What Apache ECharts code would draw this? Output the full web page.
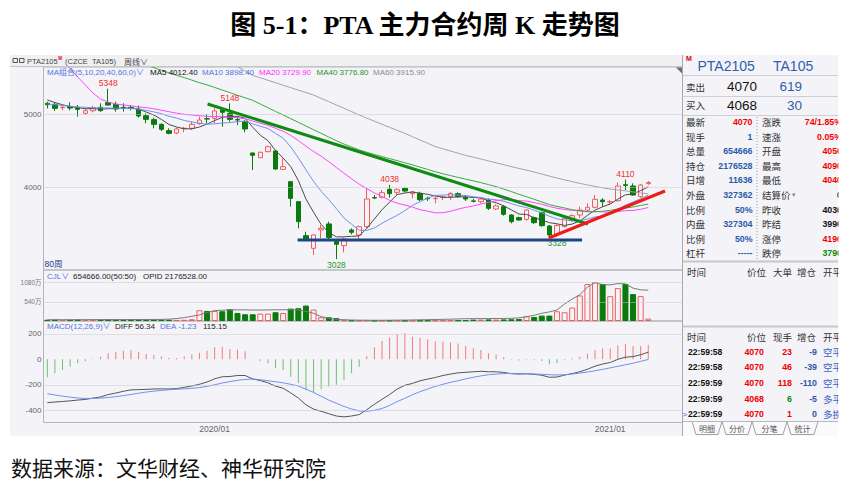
<!DOCTYPE html>
<html><head><meta charset="utf-8"><title>PTA主力合约周K走势图</title>
<script src="https://cdn.jsdelivr.net/npm/echarts@6/dist/echarts.min.js"></script>
<style>html,body{margin:0;padding:0;background:#fff;}#chart{width:850px;height:486px;}</style>
</head><body><div id="chart"></div>
<script>
// ---------------- DATA ----------------
const titleText = '图 5-1：PTA 主力合约周 K 走势图';
const sourceText = '数据来源：文华财经、神华研究院';
const dates = ['2019/07/29','2019/08/05','2019/08/12','2019/08/19','2019/08/26','2019/09/02','2019/09/09','2019/09/16','2019/09/23','2019/09/30','2019/10/07','2019/10/14','2019/10/21','2019/10/28','2019/11/04','2019/11/11','2019/11/18','2019/11/25','2019/12/02','2019/12/09','2019/12/16','2019/12/23','2019/12/30',
'2020/01/06','2020/01/13','2020/01/20','2020/01/27','2020/02/03','2020/02/10','2020/02/17','2020/02/24','2020/03/02','2020/03/09','2020/03/16','2020/03/23','2020/03/30','2020/04/06','2020/04/13','2020/04/20','2020/04/27','2020/05/04','2020/05/11','2020/05/18','2020/05/25','2020/06/01','2020/06/08','2020/06/15','2020/06/22','2020/06/29','2020/07/06','2020/07/13','2020/07/20','2020/07/27','2020/08/03','2020/08/10','2020/08/17','2020/08/24','2020/08/31','2020/09/07','2020/09/14','2020/09/21','2020/09/28','2020/10/05','2020/10/12','2020/10/19','2020/10/26','2020/11/02','2020/11/09','2020/11/16','2020/11/23','2020/11/30','2020/12/07','2020/12/14','2020/12/21','2020/12/28',
'2021/01/04','2021/01/11','2021/01/18','2021/01/25','2021/02/01'];
const tickDates = ['2019/12/30','2020/12/28'];
const tickLabels = ['2020/01','2021/01'];

const opens = [5150,5135,5090,5104,5086,5013,5049,5095,5158,5135, 5095,5095,5072,4981,4927,4863,4777,4745,4805,4809, 4872,4940,4945,5058,5013,4927,4899,4473,4409,4491, 4500,4250,4082,3810,3347,3174,3424,3506,3265,3211, 3424,3356,3469,3865,3869,3978,3937,3991,3919,3923, 3855,3851,3868,3878,3919,3869,3820,3810,3832,3710, 3742,3628,3592,3569,3592,3660,3478,3365,3469,3574, 3628,3696,3733,3832,3805,3823,4041,4023,3878,4056];
const closes = [5130,5081,5095,5085,5067,5049,5090,5049,5126,5072, 5090,5085,4977,4931,4863,4795,4740,4800,4810,4863, 4922,4935,5045,5027,4931,4922,4800,4441,4482,4559, 4255,4286,3855,3537,3297,3356,3447,3320,3229,3301, 3392,3469,3846,3860,3932,3919,3973,3955,3937,3837, 3850,3855,3873,3923,3878,3846,3815,3846,3719,3751, 3637,3537,3560,3696,3524,3483,3356,3483,3583,3619, 3696,3733,3842,3810,3810,4023,4032,3900,4036,4070];
const lows = [5080,5045,5054,5054,4968,4990,5027,5036,5117,5036, 5036,5054,4954,4877,4809,4772,4727,4727,4754,4786, 4854,4877,4877,4831,4899,4854,4754,4241,4400,4482, 4241,4241,3742,3447,3279,3083,3310,3301,3028,3120, 3365,3301,3447,3846,3855,3864,3900,3937,3855,3819, 3819,3787,3832,3832,3864,3819,3800,3787,3696,3696, 3619,3515,3551,3551,3506,3469,3340,3328,3460,3537, 3583,3674,3719,3742,3764,3810,3968,3891,3864,4040];
const highs = [5170,5158,5126,5163,5126,5081,5117,5149,5348,5172, 5149,5126,5117,5013,4954,4877,4809,4818,4831,4899, 4968,5000,5081,5081,5148,4968,4922,4477,4491,4573, 4514,4400,4091,3819,3401,3365,3492,3537,3288,3320, 3447,3483,3991,3900,3968,4038,3991,4000,3955,3946, 3878,3878,3892,3937,3937,3900,3850,3864,3855,3773, 3764,3637,3605,3705,3605,3674,3492,3501,3605,3637, 3742,3787,3900,3855,3832,4073,4110,4059,4050,4090];

const ma5 = [5195,5160,5130,5105,5092,5075,5077,5068,5076,5077, 5085,5084,5070,5031,4989,4930,4861,4826,4802,4802, 4827,4866,4915,4958,4972,4972,4945,4824,4715,4641, 4507,4405,4287,4098,3846,3666,3498,3391,3330,3331, 3338,3342,3447,3574,3700,3805,3906,3928,3943,3924, 3910,3887,3870,3868,3876,3875,3867,3862,3821,3795, 3754,3698,3641,3636,3591,3560,3524,3508,3486,3505, 3547,3623,3695,3740,3778,3844,3903,3915,3960,4012.4];
const ma10 = [5140,5130,5120,5110,5100,5095,5090,5088,5086,5084, 5080,5081,5069,5054,5033,5008,4973,4948,4916,4895, 4879,4864,4870,4880,4887,4900,4906,4870,4837,4806, 4740,4675,4556,4407,4243,4087,3952,3839,3714,3588, 3502,3420,3419,3452,3515,3572,3624,3688,3758,3812, 3858,3896,3899,3905,3900,3893,3877,3866,3844,3836, 3814,3783,3751,3729,3693,3657,3611,3575,3561,3548, 3554,3573,3602,3613,3642,3696,3763,3805,3850,3898.4];
const ma20 = [5950,5840,5730,5620,5508,5400,5290,5208,5167,5140, 5127,5115,5100,5090,5075,5055,5035,5015,5000,4990, 4980,4972,4970,4967,4960,4954,4939,4909,4877,4851, 4809,4769,4713,4643,4565,4493,4429,4355,4275,4197, 4121,4048,3988,3929,3879,3829,3788,3764,3736,3700, 3680,3658,3659,3679,3708,3732,3751,3777,3801,3824, 3836,3839,3825,3817,3797,3775,3744,3720,3703,3692, 3684,3678,3676,3671,3667,3676,3687,3690,3706,3729.9];
const ma40 = [6125,6090,6055,6020,5985,5950,5915,5880,5845,5810, 5775,5740,5705,5670,5635,5600,5565,5530,5500,5465, 5430,5400,5365,5330,5295,5260,5225,5190,5140,5090, 5040,4990,4940,4890,4840,4790,4740,4690,4640,4594, 4554,4514,4483,4452,4424,4396,4368,4340,4311,4280, 4249,4218,4190,4165,4140,4116,4093,4069,4042,4014, 3982,3947,3910,3877,3842,3806,3770,3746,3724,3700, 3686,3672,3672,3679,3692,3709,3723,3738,3758,3776.8];
const ma60 = [6660,6620,6580,6540,6500,6460,6420,6380,6340,6300, 6260,6220,6180,6140,6100,6060,6020,5980,5940,5900, 5860,5820,5780,5740,5700,5650,5590,5530,5497,5463, 5430,5396,5363,5329,5296,5262,5217,5172,5127,5082, 5036,4990,4948,4906,4864,4822,4780,4740,4695,4650, 4605,4560,4530,4500,4470,4440,4415,4390,4365,4339, 4314,4288,4262,4239,4213,4187,4158,4132,4107,4083, 4059,4037,4018,3999,3982,3969,3957,3942,3929,3915.9];

const volumes = [350000,400000,300000,350000,400000,300000,350000,400000,450000,400000, 300000,300000,450000,400000,450000,400000,350000,300000,350000,500000, 3040000,2840000,2840000,2750000,3320000,2270000,1900000,1900000,2080000,2080000, 2470000,2270000,3500000,3600000,4350000,3220000,1050000,1050000,800000,250000, 150000,120000,150000,100000,100000,120000,100000,100000,120000,120000, 150000,150000,180000,200000,200000,220000,400000,400000,450000,400000, 450000,500000,550000,1330000,1140000,1520000,1520000,2750000,2470000,3790000, 7200000,10420000,10990000,10420000,7010000,9280000,10420000,7580000,7010000,654666];
const openInterest = [90000,90000,92000,92000,95000,95000,97000,98000,100000,100000, 102000,104000,106000,108000,110000,115000,130000,170000,240000,330000, 426000,600000,730000,760000,780000,790000,785000,775000,770000,780000, 790000,795000,800000,780000,690000,547000,305000,200000,120000,90000, 70000,60000,55000,52000,52000,55000,60000,66000,75000,85000, 95000,105000,118000,130000,145000,160000,165000,170000,172000,175000, 180000,190000,220000,305000,400000,547000,640000,780000,1200000,1550000, 1850000,2400000,2700000,2570000,2550000,2640000,2620000,2320000,2200000,2176528];

const macdDiff = [-340,-335,-331,-326,-320,-315,-305,-295,-277,-265, -251,-240,-238,-236,-233,-232,-233,-230,-220,-210, -196,-178,-153,-137,-135,-127,-127,-154,-167,-184, -211,-227,-264,-304,-357,-391,-408,-427,-445,-452, -445,-434,-395,-353,-314,-276,-233,-204,-189,-169, -155,-143,-127,-116,-106,-102,-98,-94,-98,-98, -103,-113,-116,-114,-118,-125,-141,-139,-124,-112, -98,-78,-54,-37,-25,0,17,21,36,56.34];
const macdDea = [-270,-280,-289,-297,-304,-307,-307,-305,-300,-293, -285,-276,-266,-257,-250,-244,-239,-235,-232,-228, -222,-212,-200,-186,-175,-165,-158,-155,-160,-168, -176,-185,-196,-210,-235,-260,-290,-320,-345,-370, -390,-405,-408,-400,-386,-362,-332,-306,-278,-254, -233,-213,-196,-181,-168,-154,-141,-130,-121,-116, -112,-111,-111,-112,-115,-118,-121,-123,-121,-116, -108,-100,-90,-79,-67,-55,-43,-31,-16,-1.23];
const macdHist = [-141,-110,-84,-58,-31,-16,5,20,47,57, 68,73,57,42,34,24,13,10,24,37, 52,68,94,99,81,76,63,2,-13,-31, -70,-84,-136,-188,-243,-262,-235,-214,-200,-164, -110,-58,26,94,144,172,199,204,178,170, 157,141,139,131,125,105,86,73,47,37, 18,-4,-10,-3,-6,-13,-39,-31,-5,8, 21,44,73,84,84,110,120,104,104,115.15];

const priceTicks = [4000, 5000];
const volumeTicks = [5400000, 10800000];
const macdTicks = [-400, -200, 0, 200];
const highMarks = [8, 24, 45, 76];   // indices of labelled highs
const lowMarks = [38, 67];           // indices of labelled lows
// hand-drawn trend lines: [candle index, price]
const trendDown = [[21.07, 5140], [71.07, 3506]];
const trendSupport = [[32.9, 3288], [70.3, 3288]];
const trendUp = [[65.9, 3315], [81.2, 3955]];

// quote panel
const contractCode = 'PTA2105';
const contractShort = 'TA105';
const exchangeCode = 'CZCE';
const periodName = '周线';
const bookRows = [['卖出', '4070', '619'], ['买入', '4068', '30']];
const quoteLeftLabels = ['最新','现手','总量','持仓','日增','外盘','比例','内盘','比例','杠杆'];
const quoteLeftValues = ['4070','1','654666','2176528','11636','327362','50%','327304','50%','-----'];
const quoteRightLabels = ['涨跌','速涨','开盘','最高','最低','结算价','昨收','昨结','涨停','跌停'];
const quoteRightValues = ['74/1.85%','0.05%','4056','4090','4040','0','4036','3996','4196','3796'];
const tickHeaderA = ['时间','价位','大单','增仓','开平'];
const tickHeaderB = ['时间','价位','现手','增仓','开平'];
const tradeTimes = ['22:59:58','22:59:58','22:59:59','22:59:59','22:59:59'];
const tradePrices = [4070, 4070, 4070, 4068, 4070];
const tradeVolumes = [23, 46, 118, 6, 1];
const tradeOIChange = [-9, -39, -110, -5, 0];
const tradeTypes = ['空平','空平','空平','多平','多换'];
const panelTabs = ['明细','分价','分笔','统计'];

// ---------------- LAYOUT / STYLE ----------------
const FONT = '"Liberation Sans","Noto Sans CJK SC",sans-serif';
const CJK = '"Noto Sans CJK SC","Liberation Sans",sans-serif';
const BG = '#f4f4f8';
const RED = '#f25c5c', GREEN = '#0a7a0a';
const BLUE_T = '#2f5fae';
const padCats = ['pad1','pad2','pad3','pad4'];
const xCats = dates.concat(padCats);
const N = xCats.length;
const GL = 43.5, GW = 639;

const mctx = document.createElement('canvas').getContext('2d');
function fontStr(size, weight, fam) { return (weight ? weight + ' ' : '') + size + 'px ' + (fam || FONT); }
function textW(s, size, weight, fam) { mctx.font = fontStr(size, weight, fam); return mctx.measureText(String(s)).width; }

const G = [];
function T(x, y, text, o) {
  o = o || {};
  G.push({type: 'text', x: x, y: y, z: o.z || 50, silent: true,
    style: {text: String(text), x: 0, y: 0, font: fontStr(o.size || 8, o.weight, o.family), fill: o.color || '#333',
      textAlign: o.align || 'left', align: o.align || 'left',
      textVerticalAlign: 'middle', verticalAlign: 'middle'}});
}
function Ln(x1, y1, x2, y2, color, w, dash, z) {
  G.push({type: 'line', z: z || 40, silent: true, shape: {x1, y1, x2, y2},
    style: {stroke: color, lineWidth: w || 1, lineDash: dash || null}});
}
function Rc(x, y, w, h, fill, z, stroke) {
  G.push({type: 'rect', z: z === undefined ? -100 : z, silent: true, shape: {x, y, width: w, height: h},
    style: {fill: fill, stroke: stroke || null, lineWidth: 1}});
}
function Poly(points, color, z, fill) {
  G.push({type: fill ? 'polygon' : 'polyline', z: z || 40, silent: true, shape: {points},
    style: fill ? {fill: color} : {stroke: color, lineWidth: 1, fill: null}});
}

// screenshot background
Rc(10, 55, 828, 381, BG, -100);
Rc(10, 55, 672.5, 12, '#f0f0f3', -90);
Ln(10, 66.5, 682.5, 66.5, '#c4c4cc', 1);
Poly([[676, 67.5], [682, 67.5], [682, 73.5]], '#6a6a70', 45, true);
// header of chart
G.push({type: 'rect', z: 50, silent: true, shape: {x: 13, y: 58.5, width: 4.5, height: 4}, style: {fill: null, stroke: '#555', lineWidth: 1}});
G.push({type: 'rect', z: 50, silent: true, shape: {x: 19.5, y: 58.5, width: 4.5, height: 4}, style: {fill: null, stroke: '#555', lineWidth: 1}});
(function () {
  const hs = 7.5;
  let x = 27;
  T(x, 61, contractCode, {size: hs, color: '#444'});
  x += textW(contractCode, hs) + 0.5;
  T(x, 58.5, 'M', {size: 4.5, color: '#e00', weight: 'bold'});
  x += textW('M', 4.5, 'bold') + 3;
  const ex = '(' + exchangeCode + '  ' + contractShort + ')';
  T(x, 61, ex, {size: hs, color: '#444'});
  x += textW(ex, hs) + 8;
  T(Math.max(x, 117), 61, periodName + '∨', {size: 8, color: '#444', family: CJK});
})();

// legends
const last = a => a[a.length - 1];
const fx = v => Number(v).toFixed(2);
const maLegend = [
  ['MA组合(5,10,20,40,60,0)∨', '#5276dc', 47],
  ['MA5 ' + fx(last(ma5)), '#111', 150],
  ['MA10 ' + fx(last(ma10)), '#4d73e0', 202],
  ['MA20 ' + fx(last(ma20)), '#ff2bff', 259],
  ['MA40 ' + fx(last(ma40)), '#1e951e', 316.5],
  ['MA60 ' + fx(last(ma60)), '#8a8a8a', 373]
];
maLegend.forEach(m => T(m[2], 72.5, m[0], {size: 8, color: m[1]}));
T(44.5, 264, dates.length + '周', {size: 8.5, color: '#1c3a8c'});
T(47, 276, 'CJL∨', {size: 8, color: '#5276dc'});
T(73, 276, fx(last(volumes)) + '(50:50)', {size: 8, color: '#222'});
T(143, 276, 'OPID ' + fx(last(openInterest)), {size: 8, color: '#222'});
T(47, 326.5, 'MACD(12,26,9)∨', {size: 8, color: '#5276dc'});
T(115, 326.5, 'DIFF ' + fx(last(macdDiff)), {size: 8, color: '#222'});
T(160, 326.5, 'DEA ' + fx(last(macdDea)), {size: 8, color: '#5276dc'});
T(203, 326.5, fx(last(macdHist)), {size: 8, color: '#222'});

// right quote panel
Ln(682.5, 55, 682.5, 436, '#a8a8b2', 1);
T(686, 58.5, 'M', {size: 7, weight: 'bold', color: '#e00000', z: 60});
T(697.5, 65.5, contractCode, {size: 14, color: BLUE_T});
T(773, 65.5, contractShort, {size: 14, color: BLUE_T});
Ln(683, 75.5, 838, 75.5, '#cfcfd6');
bookRows.forEach((r, k) => {
  const y = 86.5 + k * 18.5;
  T(686, y, r[0], {size: 9.5, color: '#333', family: CJK});
  T(727, y, r[1], {size: 13.5, color: '#111'});
  T(802, y, r[2], {size: 13.5, color: BLUE_T, align: 'right'});
});
Ln(683, 96.5, 838, 96.5, '#cfcfd6');
Ln(683, 115.5, 838, 115.5, '#cfcfd6');
const toneColor = {red: '#f00000', blue: '#2c5aa8', black: '#111', green: '#0a8a0a'};
const leftTone = ['red','blue','blue','blue','blue','blue','blue','blue','blue','blue'];
const rightTone = ['red','red','red','red','red','black','black','black','red','green'];
quoteLeftLabels.forEach((lab, k) => {
  const y = 122 + k * 14.6;
  T(686, y, lab, {size: 9.5, color: '#333', family: CJK});
  T(752.5, y, quoteLeftValues[k], {size: 8.8, weight: 'bold', color: toneColor[leftTone[k]], align: 'right'});
  T(762, y, quoteRightLabels[k], {size: 9.5, color: '#333', family: CJK});
  T(842, y, quoteRightValues[k], {size: 8.8, weight: 'bold', color: toneColor[rightTone[k]], align: 'right'});
});
T(792, 122 + 5 * 14.6, '▾', {size: 7, color: '#888', family: 'DejaVu Sans'});
Ln(757, 117, 757, 259, '#9a9aa4', 1, [1, 2]);
Ln(683, 261.5, 838, 261.5, '#c6c6cc', 2);
const hdrX = [687, 747, 773, 797, 823];
tickHeaderA.forEach((h, k) => T(hdrX[k], 271.5, h, {size: 9.5, color: '#333', family: CJK}));
Ln(683, 326.5, 838, 326.5, '#c6c6cc', 2);
tickHeaderB.forEach((h, k) => T(hdrX[k], 336.5, h, {size: 9.5, color: '#333', family: CJK}));
const askPrice = Number(bookRows[0][1]);
tradeTimes.forEach((t, k) => {
  const y = 351.5 + k * 15.7;
  T(688, y, t, {size: 8.6, weight: 'bold', color: '#111'});
  T(764, y, tradePrices[k], {size: 8.8, weight: 'bold', color: '#f00000', align: 'right'});
  T(792, y, tradeVolumes[k], {size: 8.8, weight: 'bold', color: tradePrices[k] >= askPrice ? '#f00000' : '#0a8a0a', align: 'right'});
  T(817, y, tradeOIChange[k], {size: 8.8, weight: 'bold', color: '#2c5aa8', align: 'right'});
  T(823, y, tradeTypes[k], {size: 9.5, color: '#3a66c4', family: CJK});
});
T(682.5, 351.5 + 4 * 15.7, '>', {size: 8, color: '#3a66c4'});
// tabs
Rc(683, 421, 155, 15, '#fafafc', -80);
Ln(683, 421.5, 838, 421.5, '#b8b8c0', 1);
const tabX = [[692, 722], [722, 752], [752, 787], [787, 818]];
panelTabs.forEach((tb, k) => {
  const a = tabX[k][0], b = tabX[k][1];
  Poly([[a, 421.5], [a + 4, 434.5], [b - 4, 434.5], [b, 421.5]], '#a0a0a8', 45);
  T((a + b) / 2, 428, tb, {size: 8, color: '#555', align: 'center', family: CJK});
});
// crop edge of the screenshot
Rc(838.5, 50, 12, 392, '#ffffff', 300);
// source
T(11, 467, sourceText, {size: 21, color: '#111', family: CJK});

// ---------------- SERIES ----------------
const upStyle = {color: BG, borderColor: RED, borderWidth: 1};
const downStyle = {color: GREEN, borderColor: GREEN, borderWidth: 1};
const gridLines = vals => ({silent: true, symbol: ['none', 'none'], animation: false,
  label: {show: false}, emphasis: {disabled: true},
  lineStyle: {color: '#c9c9d3', type: 'dotted', width: 1},
  data: vals.map(v => ({yAxis: v}))});
const lineS = (data, color, xi, yi, extra) => Object.assign({type: 'line', data: data, xAxisIndex: xi, yAxisIndex: yi,
  showSymbol: false, symbol: 'none', silent: true, animation: false, z: 3,
  lineStyle: {width: 1, color: color}, itemStyle: {color: color}}, extra || {});
const markLabel = (i, val, pos, color) => ({coord: [dates[i], val], value: val,
  label: {show: true, position: pos, distance: 1, color: color, fontSize: 8.5, fontFamily: FONT, formatter: String(val)}});

const candleData = dates.map((d, i) => [opens[i], closes[i], lows[i], highs[i]]);

const option = {
  animation: false,
  backgroundColor: '#ffffff',
  title: {text: titleText, left: 'center', top: 7,
    textStyle: {fontSize: 26, fontWeight: 'bold', color: '#000', fontFamily: '"Liberation Serif","Noto Sans CJK SC",serif'}},
  grid: [
    {left: GL, top: 67, width: GW, height: 203, show: true, borderColor: '#b4b4bc', borderWidth: 1, backgroundColor: 'transparent'},
    {left: GL, top: 270, width: GW, height: 51, show: true, borderColor: '#b4b4bc', borderWidth: 1, backgroundColor: 'transparent'},
    {left: GL, top: 321, width: GW, height: 101.5, show: true, borderColor: '#b4b4bc', borderWidth: 1, backgroundColor: 'transparent'}
  ],
  xAxis: [
    {type: 'category', gridIndex: 0, data: xCats, boundaryGap: true, axisLine: {show: false}, axisTick: {show: false}, axisLabel: {show: false}, splitLine: {show: false}},
    {type: 'category', gridIndex: 1, data: xCats, boundaryGap: true, axisLine: {show: false}, axisTick: {show: false}, axisLabel: {show: false}, splitLine: {show: false}},
    {type: 'category', gridIndex: 2, data: xCats, boundaryGap: true, axisLine: {show: false}, axisTick: {show: false}, splitLine: {show: false},
      axisLabel: {show: true, margin: 2, color: '#666', fontSize: 8.5, fontFamily: FONT,
        interval: (idx, val) => tickDates.indexOf(val) >= 0,
        formatter: val => { const k = tickDates.indexOf(val); return k >= 0 ? tickLabels[k] : ''; }}},
    {type: 'value', gridIndex: 0, min: -0.5, max: N - 0.5, show: false}
  ],
  yAxis: [
    {type: 'value', gridIndex: 0, min: 2879, max: 5644, axisLine: {show: false}, axisTick: {show: false}, splitLine: {show: false},
      axisLabel: {customValues: priceTicks, margin: 2, color: '#666', fontSize: 8, fontFamily: FONT,
        formatter: v => priceTicks.indexOf(v) >= 0 ? String(v) : ''}},
    {type: 'value', gridIndex: 1, min: 0, max: 14380000, axisLine: {show: false}, axisTick: {show: false}, splitLine: {show: false},
      axisLabel: {customValues: volumeTicks, margin: 2, color: '#777', fontSize: 6.5, fontFamily: FONT,
        formatter: v => volumeTicks.indexOf(v) >= 0 ? (v / 10000) + '万' : ''}},
    {type: 'value', gridIndex: 1, min: 0, max: 3600000, show: false},
    {type: 'value', gridIndex: 2, min: -496, max: 300.7, axisLine: {show: false}, axisTick: {show: false}, splitLine: {show: false},
      axisLabel: {customValues: macdTicks, margin: 2, color: '#666', fontSize: 8, fontFamily: FONT,
        formatter: v => macdTicks.indexOf(v) >= 0 ? String(v) : ''}}
  ],
  graphic: {elements: G},
  series: [
    {type: 'candlestick', xAxisIndex: 0, yAxisIndex: 0, data: candleData, barWidth: 5, silent: true, z: 2,
      itemStyle: {color: BG, color0: GREEN, borderColor: RED, borderColor0: GREEN, borderColorDoji: RED, borderWidth: 1},
      markLine: gridLines(priceTicks),
      markPoint: {symbol: 'circle', symbolSize: 1, itemStyle: {color: 'rgba(0,0,0,0)'}, silent: true, animation: false,
        data: highMarks.map(i => markLabel(i, highs[i], 'top', '#f03030'))
          .concat(lowMarks.map(i => markLabel(i, lows[i], 'bottom', '#2c962c')))}},
    lineS(ma5, '#4a4a4a', 0, 0),
    lineS(ma10, '#6f90ee', 0, 0),
    lineS(ma20, '#ff44ff', 0, 0),
    lineS(ma40, '#3fa83f', 0, 0),
    lineS(ma60, '#a2a2a8', 0, 0),
    lineS(trendSupport, '#1b4788', 3, 0, {lineStyle: {width: 3, color: '#1b4788'}, z: 6}),
    lineS(trendDown, '#0f8a12', 3, 0, {lineStyle: {width: 3, color: '#0f8a12'}, z: 6}),
    lineS(trendUp, '#f01a1a', 3, 0, {lineStyle: {width: 3, color: '#f01a1a'}, z: 6}),
    {type: 'bar', xAxisIndex: 1, yAxisIndex: 1, barWidth: 6, silent: true, z: 2,
      data: volumes.map((v, i) => ({value: v, itemStyle: closes[i] >= opens[i] ? upStyle : downStyle})),
      markLine: gridLines(volumeTicks)},
    lineS(openInterest, '#7a7a7a', 1, 2),
    {type: 'bar', xAxisIndex: 2, yAxisIndex: 3, barWidth: 1, silent: true, z: 2,
      data: macdHist.map(v => ({value: v, itemStyle: {color: v >= 0 ? '#f27a7a' : '#6cbf6c'}})),
      markLine: gridLines([-400, -200, 200])},
    lineS(macdDiff, '#555555', 2, 3),
    lineS(macdDea, '#6f90ee', 2, 3)
  ]
};
const chart = echarts.init(document.getElementById('chart'), null, {renderer: 'svg', width: 850, height: 486});
chart.setOption(option);
</script></body></html>
